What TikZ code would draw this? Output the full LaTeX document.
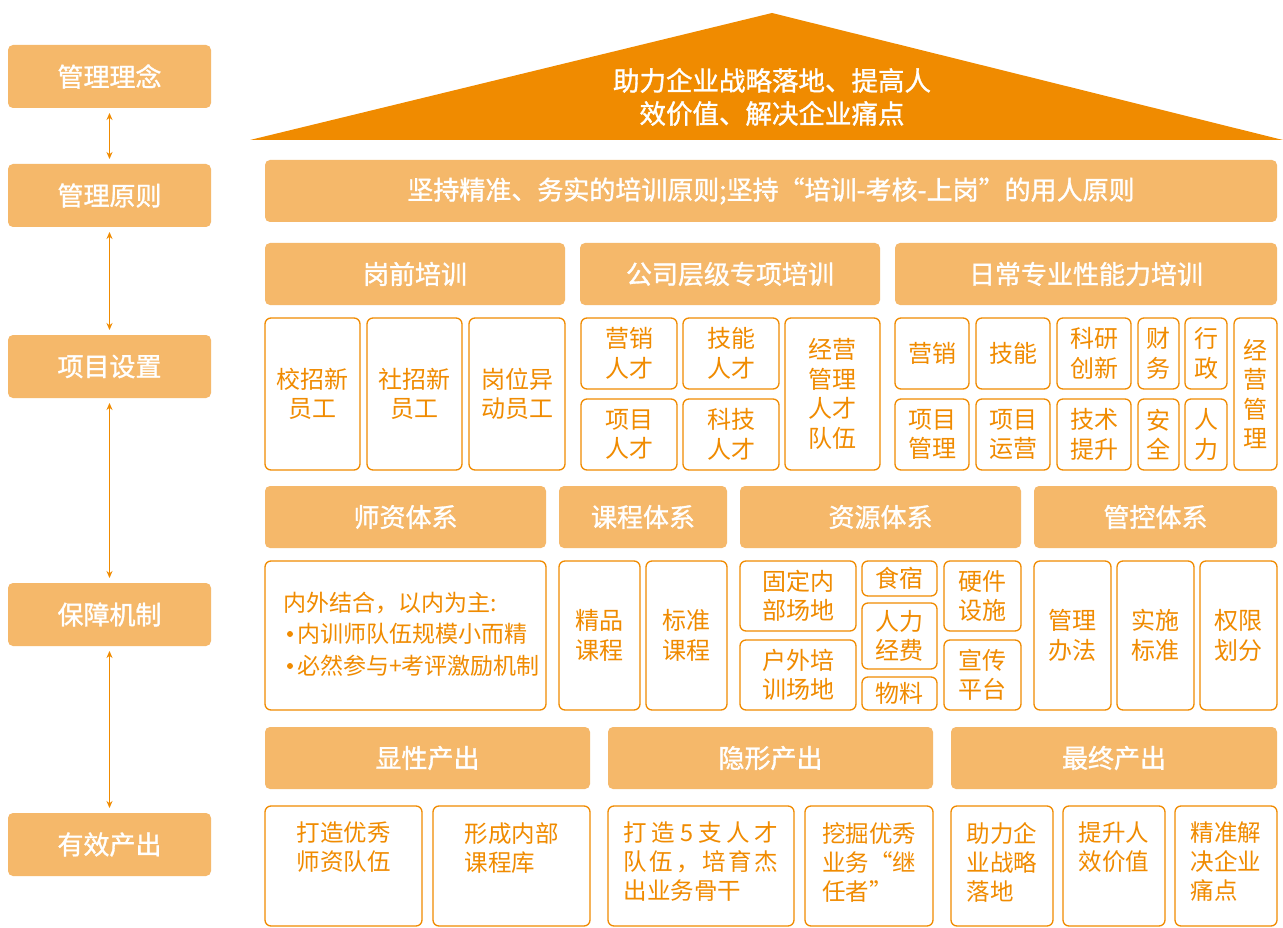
\documentclass[tikz,border=0pt]{standalone}
\usepackage{fontspec}
\setmainfont{Noto Sans CJK SC}
\newfontfamily\medfont{Noto Sans CJK SC}[FakeBold=1.2]
\usetikzlibrary{arrows.meta}
\definecolor{dorange}{RGB}{240,139,0}
\definecolor{lorange}{RGB}{245,184,106}
\newcommand\bx[7]{%
  \pgfmathsetmacro\bxw{#4-#2}\pgfmathsetmacro\bxh{#5-#3}%
  \pgfmathsetmacro\bxcx{(#2+#4)/2}\pgfmathsetmacro\bxcy{(#3+#5)/2}%
  \node[#6, minimum width=\bxw pt, minimum height=\bxh pt] (#1) at (\bxcx,\bxcy) {#7};}
\tikzset{
  hdr/.style={fill=lorange, draw=none, rounded corners=5pt, text=white,
    font=\medfont\fontsize{26}{30}\selectfont, inner sep=0pt, outer sep=0pt},
  itm/.style={draw=dorange, line width=1.3pt, fill=white, rounded corners=6pt,
    text=dorange, font=\fontsize{24}{29.5}\selectfont, align=center, inner sep=0pt, outer sep=0pt},
  otxt/.style={text=dorange, font=\fontsize{23.5}{29}\selectfont, align=left, inner sep=0pt, anchor=north},
  ltxt/.style={text=dorange, font=\fontsize{23}{28}\selectfont, inner sep=0pt, anchor=west},
  dot/.style={circle, fill=dorange, inner sep=0pt, minimum size=6pt},
  arr/.style={dorange, line width=1pt, {Stealth[length=7pt,width=6pt]}-{Stealth[length=7pt,width=6pt]},
    shorten <=5pt, shorten >=5pt}
}
\begin{document}
\begin{tikzpicture}[x=1pt,y=-1pt]
\fill[white] (0,0) rectangle (1283,928);
\useasboundingbox (0,0) rectangle (1283,928);
% left column
\bx{L1}{8}{45}{211}{108}{hdr}{管理理念}
\bx{L2}{8}{164}{211}{227}{hdr}{管理原则}
\bx{L3}{8}{335}{211}{398}{hdr}{项目设置}
\bx{L4}{8}{583}{211}{646}{hdr}{保障机制}
\bx{L5}{8}{813}{211}{876}{hdr}{有效产出}
\draw[arr] (L1) -- (L2);
\draw[arr] (L2) -- (L3);
\draw[arr] (L3) -- (L4);
\draw[arr] (L4) -- (L5);
% roof
\fill[dorange] (250,140) -- (772,13) -- (1283,140) -- cycle;
\node[text=white, font=\medfont\fontsize{26.5}{33}\selectfont, align=center, inner sep=0pt] (roof) at (772,97)
  {助力企业战略落地、提高人\\效价值、解决企业痛点};
% principle
\bx{P}{265}{160}{1277}{222}{hdr}{坚持精准、务实的培训原则;坚持“培训-考核-上岗”的用人原则}
% row 2
\bx{H1}{265}{243}{565}{305}{hdr}{岗前培训}
\bx{H2}{580}{243}{880}{305}{hdr}{公司层级专项培训}
\bx{H3}{895}{243}{1277}{305}{hdr}{日常专业性能力培训}
\bx{a1}{265}{318}{360}{470}{itm}{校招新\\员工}
\bx{a2}{367}{318}{462}{470}{itm}{社招新\\员工}
\bx{a3}{469}{318}{565}{470}{itm}{岗位异\\动员工}
\bx{b1}{581}{318}{677}{389}{itm}{营销\\人才}
\bx{b2}{683}{318}{779}{389}{itm}{技能\\人才}
\bx{b3}{581}{399}{677}{470}{itm}{项目\\人才}
\bx{b4}{683}{399}{779}{470}{itm}{科技\\人才}
\bx{b5}{785}{318}{880}{470}{itm}{经营\\管理\\人才\\队伍}
\bx{c1}{895}{318}{969}{389}{itm}{营销}
\bx{c2}{976}{318}{1050}{389}{itm}{技能}
\bx{c3}{1057}{318}{1131}{389}{itm}{科研\\创新}
\bx{c4}{1138}{318}{1179}{389}{itm}{财\\务}
\bx{c5}{1185}{318}{1227}{389}{itm}{行\\政}
\bx{c6}{1234}{318}{1277}{470}{itm}{经\\营\\管\\理}
\bx{c7}{895}{399}{969}{470}{itm}{项目\\管理}
\bx{c8}{976}{399}{1050}{470}{itm}{项目\\运营}
\bx{c9}{1057}{399}{1131}{470}{itm}{技术\\提升}
\bx{c10}{1138}{399}{1179}{470}{itm}{安\\全}
\bx{c11}{1185}{399}{1227}{470}{itm}{人\\力}
% row 3
\bx{H4}{265}{486}{546}{548}{hdr}{师资体系}
\bx{H5}{559}{486}{727}{548}{hdr}{课程体系}
\bx{H6}{740}{486}{1021}{548}{hdr}{资源体系}
\bx{H7}{1034}{486}{1277}{548}{hdr}{管控体系}
\bx{d1}{265}{561}{546}{710}{itm}{}
\node[ltxt] (d1a) at (283,603) {内外结合，以内为主:};
\node[dot] (d1b) at (290,634) {};
\node[ltxt] (d1c) at (297,634) {内训师队伍规模小而精};
\node[dot] (d1d) at (290,666) {};
\node[ltxt] (d1e) at (297,666) {必然参与+考评激励机制};
\bx{d2}{559}{561}{640}{710}{itm}{精品\\课程}
\bx{d3}{646}{561}{727}{710}{itm}{标准\\课程}
\bx{e1}{740}{561}{856}{631}{itm}{固定内\\部场地}
\bx{e2}{740}{640}{856}{710}{itm}{户外培\\训场地}
\bx{e3}{862}{561}{937}{596}{itm}{食宿}
\bx{e4}{862}{603}{937}{669}{itm}{人力\\经费}
\bx{e5}{862}{677}{937}{710}{itm}{物料}
\bx{e6}{944}{561}{1021}{631}{itm}{硬件\\设施}
\bx{e7}{944}{640}{1021}{710}{itm}{宣传\\平台}
\bx{f1}{1034}{561}{1111}{710}{itm}{管理\\办法}
\bx{f2}{1117}{561}{1194}{710}{itm}{实施\\标准}
\bx{f3}{1200}{561}{1277}{710}{itm}{权限\\划分}
% row 4
\bx{H8}{265}{727}{590}{789}{hdr}{显性产出}
\bx{H9}{608}{727}{933}{789}{hdr}{隐形产出}
\bx{H10}{951}{727}{1277}{789}{hdr}{最终产出}
\bx{g1}{265}{806}{422}{926}{itm}{}
\bx{g2}{433}{806}{590}{926}{itm}{}
\bx{g3}{608}{806}{794}{926}{itm}{}
\bx{g4}{805}{806}{933}{926}{itm}{}
\bx{g5}{951}{806}{1053}{926}{itm}{}
\bx{g6}{1063}{806}{1165}{926}{itm}{}
\bx{g7}{1175}{806}{1277}{926}{itm}{}
\node[otxt] (g1t) at ([yshift=-16pt]g1.north) {打造优秀\\师资队伍};
\node[otxt] (g2t) at ([yshift=-16pt]g2.north) {形成内部\\课程库};
\node[otxt] (g3t) at ([yshift=-16pt]g3.north)
  {\makebox[155pt][s]{打\hfill 造\hfill 5\hfill 支\hfill 人\hfill 才}\\\makebox[155pt][s]{队\hfill 伍\hfill ，\hfill 培\hfill 育\hfill 杰}\\出业务骨干};
\node[otxt] (g4t) at ([yshift=-16pt]g4.north) {挖掘优秀\\\makebox[92pt][s]{业\hfill 务\hfill “继}\\任者”};
\node[otxt] (g5t) at ([yshift=-16pt]g5.north) {助力企\\业战略\\落地};
\node[otxt] (g6t) at ([yshift=-16pt]g6.north) {提升人\\效价值};
\node[otxt] (g7t) at ([yshift=-16pt]g7.north) {精准解\\决企业\\痛点};
\end{tikzpicture}
\end{document}
